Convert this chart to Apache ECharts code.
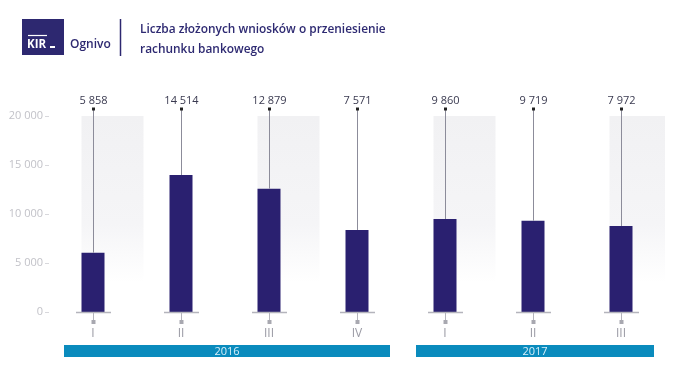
<!DOCTYPE html>
<html><head><meta charset="utf-8">
<script src="https://cdn.jsdelivr.net/npm/echarts@6/dist/echarts.min.js"></script>
<style>html,body{margin:0;padding:0;background:#fff}#c{width:696px;height:376px}</style>
</head><body><div id="c"></div>
<script>
// ---- data ----
var categories = ['I', 'II', 'III', 'IV', 'I', 'II', 'III'];
var labelValues = [5858, 14514, 12879, 7571, 9860, 9719, 7972];   // printed numbers
var barValues = [6050, 13980, 12580, 8370, 9490, 9320, 8780];     // bar heights as drawn
var shadedColumns = [20000, null, 20000, null, 20000, null, 20000];
var years = ['2016', '2017'];
var yearStart = [0, 4];
var yearEnd = [3, 6];
var yTicks = [0, 5000, 10000, 15000, 20000];
var titleLines = ['Liczba złożonych wniosków o przeniesienie', 'rachunku bankowego'];

function fmt(v) { return String(v).replace(/\B(?=(\d{3})+(?!\d))/g, ' '); }

var NAVY = '#2a2070';
var chart = echarts.init(document.getElementById('c'), null, { renderer: 'canvas' });

var stemData = categories.map(function (c, i) { return [i, barValues[i], labelValues[i]]; });
var yearData = years.map(function (y, i) { return [yearStart[i], yearEnd[i], y]; });

chart.setOption({
  animation: false,
  backgroundColor: '#fff',
  grid: { left: 49, right: 31, top: 116, bottom: 64, containLabel: false },
  xAxis: {
    type: 'category', data: categories,
    axisLine: { show: false }, axisTick: { show: false },
    axisLabel: { color: '#9a9aa4', fontSize: 12, margin: 16, fontFamily: 'Open Sans' }
  },
  yAxis: {
    type: 'value', min: yTicks[0], max: yTicks[yTicks.length - 1], interval: 5000,
    axisLine: { show: false },
    axisTick: { show: true, length: 4, lineStyle: { color: '#d8d8dc' } },
    splitLine: { show: false },
    axisLabel: { color: '#c2c2c8', fontSize: 11, margin: 6, fontFamily: 'Open Sans', formatter: fmt }
  },
  graphic: [
    { type: 'rect', shape: { x: 22, y: 19, width: 42, height: 36 }, style: { fill: '#2d2870' } },
    { type: 'line', shape: { x1: 28, y1: 35.5, x2: 47, y2: 35.5 }, style: { stroke: '#fff', lineWidth: 1.2 } },
    { type: 'text', style: { x: 27, y: 44.5, text: 'KIR', fill: '#fff', font: 'bold 11.5px "Open Sans"', textVerticalAlign: 'middle' } },
    { type: 'rect', shape: { x: 50, y: 46, width: 5, height: 2 }, style: { fill: '#fff' } },
    { type: 'text', style: { x: 70, y: 45, text: 'Ognivo', fill: '#2d2870', font: '600 12px "Open Sans"', textVerticalAlign: 'middle' } },
    { type: 'line', shape: { x1: 120.5, y1: 19, x2: 120.5, y2: 56 }, style: { stroke: '#2d2870', lineWidth: 1.5 } },
    { type: 'text', style: { x: 140, y: 30, text: titleLines[0], fill: '#2e2a72', font: '600 11.9px "Open Sans"', textVerticalAlign: 'middle' } },
    { type: 'text', style: { x: 140, y: 50, text: titleLines[1], fill: '#2e2a72', font: '600 11.9px "Open Sans"', textVerticalAlign: 'middle' } }
  ],
  series: [
    {
      type: 'bar', data: shadedColumns, barWidth: 62, barGap: '-100%', z: 1, silent: true,
      itemStyle: {
        color: new echarts.graphic.LinearGradient(0, 0, 0, 1, [
          { offset: 0, color: '#f1f1f3' }, { offset: 0.55, color: '#f5f5f7' }, { offset: 0.85, color: '#ffffff' }, { offset: 1, color: '#ffffff' }
        ])
      }
    },
    {
      type: 'bar', data: barValues, barWidth: 23, barGap: '-100%', z: 3,
      itemStyle: { color: NAVY }
    },
    {
      type: 'custom', z: 4, clip: false, data: stemData,
      renderItem: function (params, api) {
        var i = api.value(0);
        var top = api.coord([i, api.value(1)]);
        var base = api.coord([i, 0]);
        var peak = api.coord([i, 20000]);
        var x = Math.round(top[0]) + 0.5;
        var dotY = peak[1] - 7;
        return {
          type: 'group', children: [
            { type: 'line', shape: { x1: x, y1: dotY, x2: x, y2: top[1] }, style: { stroke: '#8c8c9a', lineWidth: 1 } },
            { type: 'rect', shape: { x: x - 1.5, y: dotY - 1.5, width: 3, height: 3 }, style: { fill: '#222' } },
            { type: 'text', style: { x: x, y: dotY - 8, text: fmt(api.value(2)), fill: '#3a3a50', font: '11px "Open Sans"', textAlign: 'center', textVerticalAlign: 'middle' } },
            { type: 'line', shape: { x1: x - 17.5, y1: base[1] + 0.5, x2: x + 17.5, y2: base[1] + 0.5 }, style: { stroke: '#b4b4bc', lineWidth: 1.5 } },
            { type: 'line', shape: { x1: x, y1: base[1] + 1, x2: x, y2: base[1] + 9 }, style: { stroke: '#b4b4bc', lineWidth: 1 } },
            { type: 'rect', shape: { x: x - 2, y: base[1] + 8, width: 4, height: 4 }, style: { fill: '#a8a8b0' } }
          ]
        };
      }
    },
    {
      type: 'custom', z: 4, clip: false, data: yearData,
      renderItem: function (params, api) {
        var a = api.coord([api.value(0), 0]);
        var b = api.coord([api.value(1), 0]);
        var x1 = a[0] - 29, x2 = b[0] + 33;
        var y = a[1] + 33;
        return {
          type: 'group', children: [
            { type: 'rect', shape: { x: x1, y: y, width: x2 - x1, height: 12 }, style: { fill: '#0a8bbd' } },
            { type: 'text', style: { x: (x1 + x2) / 2, y: y + 6.5, text: years[params.dataIndex], fill: '#d8f0fa', font: '11px "Open Sans"', textAlign: 'center', textVerticalAlign: 'middle' } }
          ]
        };
      }
    }
  ]
});
</script>
</body></html>
